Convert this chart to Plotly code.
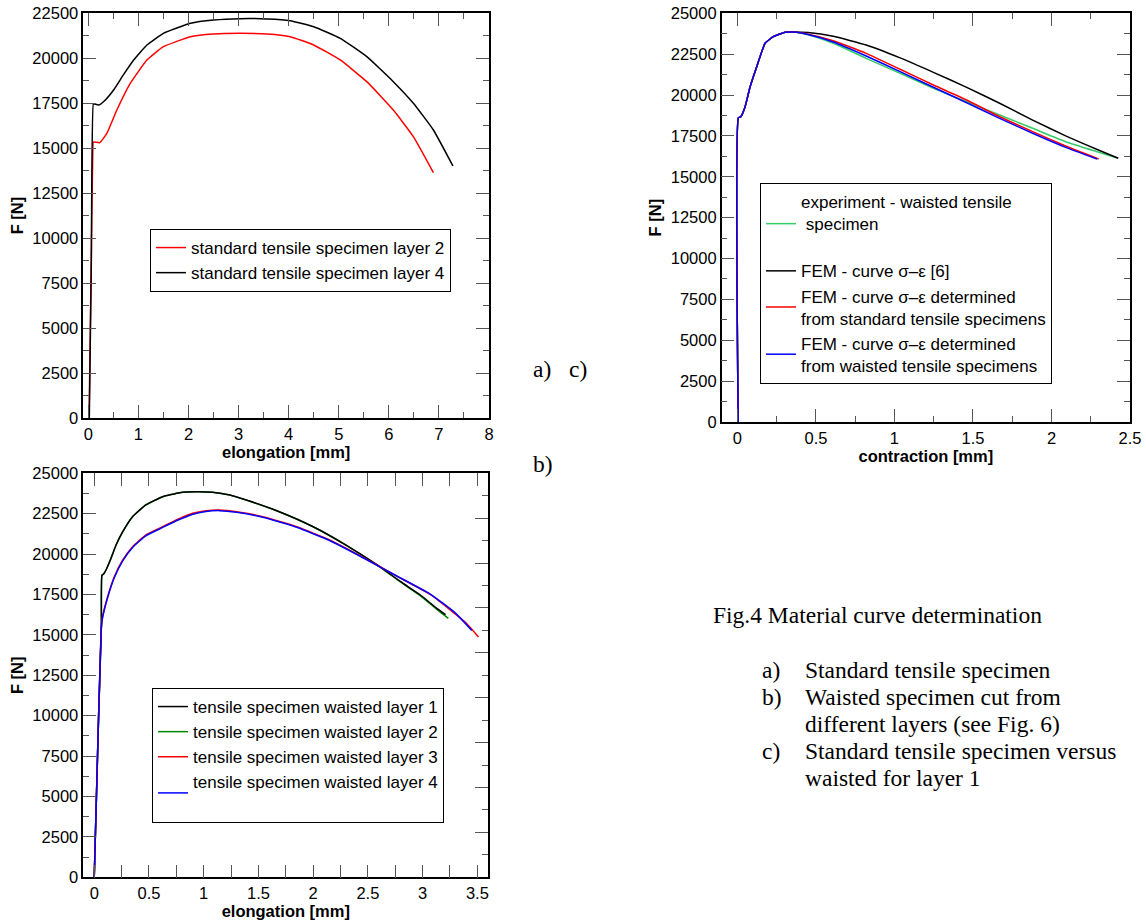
import plotly.graph_objects as go

W, H = 1146, 924

# ---------------- (a) standard tensile specimen ----------------
a_x_layer2 = [0.015, 0.05, 0.09, 0.10, 0.23, 0.37, 0.57, 0.84, 1.17, 1.50, 2.04, 2.50, 3.03,
              3.57, 4.03, 4.50, 5.03, 5.56, 6.09, 6.49, 6.89]
a_F_layer2 = [0, 7000, 15000, 15330, 15300, 15815, 17110, 18600, 19890, 20630, 21185, 21335, 21370,
              21335, 21185, 20725, 19890, 18685, 17110, 15630, 13630]
a_x_layer4 = [0.02, 0.06, 0.10, 0.12, 0.21, 0.34, 0.505, 0.70, 0.905, 1.17, 1.50, 2.04, 2.50,
              3.03, 3.57, 4.03, 4.50, 5.03, 5.56, 6.09, 6.49, 6.89, 7.28]
a_F_layer4 = [0, 8500, 17450, 17450, 17390, 17670, 18220, 19060, 19890, 20720, 21370, 21930, 22110,
              22185, 22170, 22075, 21740, 21095, 20075, 18685, 17485, 16000, 14000]

# ---------------- (b) waisted specimens, layers 1-4 ----------------
b_x_layer1 = [0.0, 0.02, 0.04, 0.065, 0.07, 0.085, 0.107, 0.153, 0.199, 0.26, 0.35, 0.47, 0.625,
              0.78, 0.93, 1.08, 1.24, 1.39, 1.69, 2.00, 2.30, 2.61, 2.80, 2.98, 3.13, 3.21]
b_F_layer1 = [0, 5000, 10000, 15500, 18700, 18770, 19015, 19740, 20560, 21385, 22315, 23040, 23550,
              23800, 23860, 23825, 23655, 23345, 22625, 21695, 20560, 19220, 18290, 17470, 16645, 16250]
b_x_layer2 = [0.0, 0.02, 0.04, 0.065, 0.07, 0.085, 0.107, 0.153, 0.199, 0.26, 0.35, 0.47, 0.625,
              0.78, 0.93, 1.08, 1.24, 1.39, 1.69, 2.00, 2.30, 2.61, 2.80, 2.98, 3.13, 3.235]
b_F_layer2 = [0, 5000, 10000, 15500, 18650, 18750, 19000, 19730, 20550, 21380, 22310, 23035, 23545,
              23795, 23855, 23820, 23650, 23340, 22620, 21690, 20550, 19200, 18260, 17420, 16580, 16025]
b_x_layer3 = [0.0, 0.02, 0.04, 0.065, 0.076, 0.122, 0.183, 0.26, 0.35, 0.47, 0.625, 0.75, 0.90,
              1.02, 1.145, 1.30, 1.54, 1.85, 2.15, 2.46, 2.76, 3.07, 3.40, 3.51]
b_F_layer3 = [0, 5000, 10000, 15500, 16125, 17365, 18600, 19635, 20460, 21180, 21695, 22110, 22525,
              22685, 22730, 22625, 22315, 21695, 20870, 19780, 18650, 17500, 15720, 14870]
b_x_layer4 = [0.0, 0.02, 0.04, 0.065, 0.076, 0.122, 0.183, 0.26, 0.35, 0.47, 0.625, 0.75, 0.90,
              1.02, 1.145, 1.30, 1.54, 1.85, 2.15, 2.46, 2.76, 3.07, 3.30, 3.45]
b_F_layer4 = [0, 5000, 10000, 15500, 16050, 17300, 18540, 19580, 20410, 21130, 21650, 22060, 22470,
              22640, 22690, 22590, 22280, 21660, 20840, 19760, 18660, 17530, 16350, 15270]

# ---------------- (c) standard vs waisted, layer 1 ----------------
c_x_experiment = [0.005, 0.006, 0.022, 0.049, 0.081, 0.123, 0.176, 0.229, 0.304, 0.357, 0.45, 0.61,
                  0.82, 1.036, 1.248, 1.46, 1.67, 1.88, 2.09, 2.31, 2.425]
c_F_experiment = [0, 18600, 18680, 19290, 20510, 21735, 23165, 23570, 23840, 23855, 23680, 23165,
                  22245, 21330, 20410, 19590, 18780, 17965, 17145, 16475, 16130]
c_x_fem6 = [0.005, 0.006, 0.022, 0.049, 0.081, 0.123, 0.176, 0.229, 0.304, 0.36, 0.45, 0.61,
            0.82, 1.036, 1.248, 1.46, 1.67, 1.88, 2.09, 2.31, 2.425]
c_F_fem6 = [0, 18600, 18680, 19290, 20510, 21735, 23165, 23570, 23840, 23860, 23820, 23590,
            23060, 22270, 21390, 20470, 19500, 18470, 17500, 16590, 16130]
c_x_fem_std = [0.005, 0.006, 0.022, 0.049, 0.081, 0.123, 0.176, 0.229, 0.304, 0.357, 0.45, 0.61,
               0.82, 1.036, 1.248, 1.46, 1.67, 1.88, 2.09, 2.30]
c_F_fem_std = [0, 18600, 18680, 19290, 20510, 21735, 23165, 23570, 23840, 23855, 23720, 23325,
               22550, 21575, 20615, 19695, 18675, 17760, 16880, 16090]
c_x_fem_waist = [0.005, 0.006, 0.022, 0.049, 0.081, 0.123, 0.176, 0.229, 0.304, 0.357, 0.45, 0.61,
                 0.82, 1.036, 1.248, 1.46, 1.67, 1.88, 2.09, 2.29]
c_F_fem_waist = [0, 18600, 18680, 19290, 20510, 21735, 23165, 23570, 23840, 23855, 23700, 23245,
                 22390, 21430, 20475, 19530, 18575, 17660, 16800, 16090]

FONT = "Liberation Sans, Arial, sans-serif"
SERIF = "Liberation Serif, Times New Roman, serif"
LW = 1.5

fig = go.Figure()

def add(x, y, name, color, xa, ya, legend, rank):
    fig.add_trace(go.Scatter(x=x, y=y, name=name, mode="lines", xaxis=xa, yaxis=ya,
                             legend=legend, legendrank=rank,
                             line=dict(color=color, width=LW, shape="spline", smoothing=0.4)))

add(a_x_layer2, a_F_layer2, "standard tensile specimen layer 2", "#ff0000", "x", "y", "legend", 1)
add(a_x_layer4, a_F_layer4, "standard tensile specimen layer 4", "#000000", "x", "y", "legend", 2)

add(c_x_experiment, c_F_experiment, "experiment - waisted tensile<br>\u00a0specimen<br>\u00a0",
    "#33cc66", "x2", "y2", "legend2", 1)
add(c_x_fem6, c_F_fem6, "FEM - curve \u03c3\u2013\u03b5 [6]", "#000000", "x2", "y2", "legend2", 2)
add(c_x_fem_std, c_F_fem_std, "FEM - curve \u03c3\u2013\u03b5 determined<br>from standard tensile specimens",
    "#ff0000", "x2", "y2", "legend2", 3)
add(c_x_fem_waist, c_F_fem_waist, "FEM - curve \u03c3\u2013\u03b5 determined<br>from waisted tensile specimens",
    "#0000ff", "x2", "y2", "legend2", 4)

add(b_x_layer2, b_F_layer2, "tensile specimen waisted layer 2", "#008800", "x3", "y3", "legend3", 2)
add(b_x_layer1, b_F_layer1, "tensile specimen waisted layer 1", "#000000", "x3", "y3", "legend3", 1)
add(b_x_layer3, b_F_layer3, "tensile specimen waisted layer 3", "#ff0000", "x3", "y3", "legend3", 3)
add(b_x_layer4, b_F_layer4, "tensile specimen waisted layer 4<br>\u00a0", "#0000ff", "x3", "y3", "legend3", 4)

def px_x(p):
    return p / W

def px_y(p):
    return 1 - p / H

TICKF = dict(family=FONT, size=16.5, color="black")
TITLEF = dict(family=FONT, size=16.5, color="black")

def xax(domain, rng, dtick, minor, title, anchor):
    return dict(domain=domain, range=rng, dtick=dtick, tick0=0, anchor=anchor,
                ticks="inside", ticklen=13, tickwidth=1, tickcolor="#555",
                minor=dict(dtick=minor, ticks="inside", ticklen=6, tickwidth=1, tickcolor="#555"),
                showline=True, linecolor="black", linewidth=1.5, mirror="allticks",
                showgrid=False, zeroline=False, tickfont=TICKF, automargin=False,
                title=dict(text="<b>" + title + "</b>", font=TITLEF, standoff=2))

def yax(domain, rng, title, anchor, mirror="allticks"):
    return dict(domain=domain, range=rng, dtick=2500, tick0=0, anchor=anchor, tickformat="d",
                ticks="inside", ticklen=13, tickwidth=1, tickcolor="#555",
                minor=dict(dtick=1250, ticks="inside", ticklen=6, tickwidth=1, tickcolor="#555"),
                showline=True, linecolor="black", linewidth=1.5, mirror=mirror,
                showgrid=False, zeroline=False, tickfont=TICKF, automargin=False,
                title=dict(text="<b>" + title + "</b>", font=TITLEF, standoff=5))

layout = dict(
    width=W, height=H, paper_bgcolor="white", plot_bgcolor="white",
    margin=dict(l=0, r=0, t=0, b=0, pad=0, autoexpand=False),
    font=dict(family=FONT, color="black"),
    showlegend=True,
    xaxis=xax([px_x(83.3), px_x(489)], [-0.1, 8], 1, 0.5, "elongation [mm]", "y"),
    yaxis=yax([px_y(418), px_y(13)], [0, 22500], "F [N]", "x"),
    xaxis2=xax([px_x(721.7), px_x(1130)], [-0.1, 2.5], 0.5, 0.25, "contraction [mm]", "y2"),
    yaxis2=yax([px_y(422), px_y(13.3)], [0, 25000], "F [N]", "x2"),
    xaxis3=xax([px_x(83.3), px_x(488.3)], [-0.1, 3.6], 0.5, 0.25, "elongation [mm]", "y3"),
    yaxis3=yax([px_y(877.3), px_y(473.3)], [0, 25000], "F [N]", "x3", mirror=True),
    yaxis4=dict(overlaying="y3", side="right", anchor="x3", range=[0, 22500], dtick=2500, tick0=0,
                ticks="inside", ticklen=13, tickwidth=1, tickcolor="#555",
                minor=dict(dtick=1250, ticks="inside", ticklen=6, tickwidth=1, tickcolor="#555"),
                showline=False, showgrid=False, zeroline=False, showticklabels=False,
                automargin=False),
)

LEGF = dict(family=FONT, size=17, color="black")
leg_common = dict(font=LEGF, bgcolor="white", bordercolor="black", borderwidth=1,
                  xanchor="left", yanchor="top", traceorder="normal", tracegroupgap=0)
layout["legend"] = dict(x=px_x(150), y=px_y(229), **leg_common)
layout["legend2"] = dict(x=px_x(760), y=px_y(183), **leg_common)
layout["legend3"] = dict(x=px_x(152), y=px_y(688), **leg_common)

fig.update_layout(**layout)

fig.add_trace(go.Scatter(x=[None], y=[None], xaxis="x3", yaxis="y4", showlegend=False,
                         hoverinfo="skip", mode="lines"))

# ---------------- caption text ----------------
CAPF = dict(family=SERIF, size=23.5, color="black")
caption_lines = [
    ("a)", 533.3, 377.3), ("c)", 569.3, 377.3), ("b)", 533.3, 471.7),
    ("Fig.4 Material curve determination", 712.7, 623.0),
    ("a)", 761.7, 678.3), ("Standard tensile specimen", 805.0, 678.3),
    ("b)", 761.7, 705.0), ("Waisted specimen cut from", 805.0, 705.0),
    ("different layers (see Fig. 6)", 805.0, 732.0),
    ("c)", 761.7, 759.0), ("Standard tensile specimen versus", 805.0, 759.0),
    ("waisted for layer 1", 805.0, 786.0),
]
for txt, xp, base in caption_lines:
    fig.add_annotation(text=txt, xref="paper", yref="paper", x=px_x(xp - 2),
                       y=px_y(base - 0.34 * 23), xanchor="left", yanchor="middle",
                       showarrow=False, font=CAPF)

fig.write_html("out.html", config={"displayModeBar": False},
               post_script="document.body.style.margin='0';")
